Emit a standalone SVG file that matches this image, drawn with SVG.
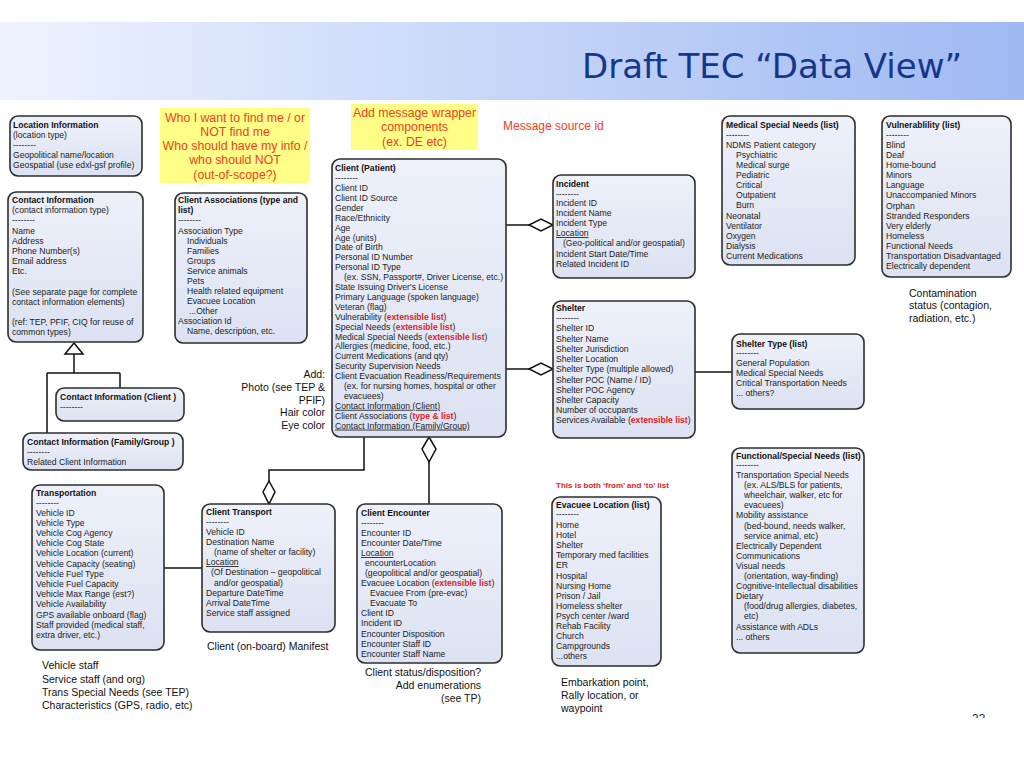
<svg xmlns="http://www.w3.org/2000/svg" width="1024" height="768" viewBox="0 0 1024 768">
<defs>
<linearGradient id="hdr" x1="0" y1="0" x2="1" y2="0">
<stop offset="0" stop-color="#eef3fe"/><stop offset="1" stop-color="#9fb9f3"/>
</linearGradient>
<linearGradient id="bx" x1="0" y1="0" x2="0" y2="1">
<stop offset="0" stop-color="#eef1fa"/><stop offset="1" stop-color="#dce2f2"/>
</linearGradient>
<clipPath id="pg"><rect x="960" y="700" width="60" height="18"/></clipPath>
<style>
.box{fill:url(#bx);stroke:#2e2e2e;stroke-width:1.6}
.t{font-family:"Liberation Sans",Arial,sans-serif;font-size:8.6px;fill:#222}
.b{font-weight:bold;fill:#111}
.r{fill:#e0202a;font-weight:bold}
.u{text-decoration:underline}
.n{font-family:"Liberation Sans",Arial,sans-serif;font-size:10.5px;fill:#111}
.y{font-family:"Liberation Sans",Arial,sans-serif;font-size:12.3px;fill:#f04020;text-anchor:middle}
.ybg{fill:#ffff88}
.c{stroke:#111;stroke-width:1.5;fill:none}
.d{fill:#fff;stroke:#111;stroke-width:1.5}
</style>
</defs>
<rect width="1024" height="768" fill="#fff"/>
<rect x="0" y="22" width="1024" height="78" fill="url(#hdr)"/>
<text x="582" y="78" font-family="DejaVu Sans,Verdana,sans-serif" font-size="34" fill="#15378a">Draft TEC “Data View”</text>

<g id="connectors">
<path class="c" d="M506,225 H529"/>
<polygon class="d" points="529,225 541,219 553,225 541,231"/>
<path class="c" d="M506,369 H529"/>
<polygon class="d" points="529,369 541,363 553,369 541,375"/>
<path class="c" d="M695,372 H732"/>
<path class="c" d="M364,437 V470 H269 V481"/>
<polygon class="d" points="269,481 275,492 269,504 263,492"/>
<polygon class="d" points="429,437 436,449 429,462 422,449"/>
<path class="c" d="M429,462 V504"/>
<path class="c" d="M164,568 H202"/>
<polygon class="d" points="74,343 65,354 83,354"/>
<path class="c" d="M74,354 V373 M47,373 H120 M47,373 V433 M120,373 V388"/>
</g>

<g id="location-information">
<rect class="box" x="10" y="116" width="132" height="60" rx="8"/>
<text class="t"><tspan class="b" x="13" y="128">Location Information</tspan><tspan x="13" y="138">(location type)</tspan><tspan x="13" y="148">--------</tspan><tspan x="13" y="158">Geopolitical name/location</tspan><tspan x="13" y="168">Geospatial (use edxl-gsf profile)</tspan></text>
</g>

<g id="contact-information">
<rect class="box" x="8" y="192" width="135" height="150" rx="8"/>
<text class="t"><tspan class="b" x="12" y="203">Contact Information</tspan><tspan x="12" y="213">(contact information type)</tspan><tspan x="12" y="223">--------</tspan><tspan x="12" y="234">Name</tspan><tspan x="12" y="244">Address</tspan><tspan x="12" y="254">Phone Number(s)</tspan><tspan x="12" y="264">Email address</tspan><tspan x="12" y="274">Etc.</tspan><tspan x="12" y="295">(See separate page for complete</tspan><tspan x="12" y="305">contact  information elements)</tspan><tspan x="12" y="325">(ref: TEP, PFIF, CIQ for reuse of</tspan><tspan x="12" y="335">common types)</tspan></text>
</g>

<g id="note-find-me">
<rect class="ybg" x="160" y="108" width="150" height="75"/>
<text class="y"><tspan x="235" y="121.5">Who I want to find me / or</tspan><tspan x="235" y="135.5">NOT find me</tspan><tspan x="235" y="149.5">Who should have my info /</tspan><tspan x="235" y="163.5">who should NOT</tspan><tspan x="235" y="178.5">(out-of-scope?)</tspan></text>
</g>

<g id="client-associations">
<rect class="box" x="175" y="193" width="132" height="150" rx="8"/>
<text class="t"><tspan class="b" x="178" y="203">Client Associations (type and</tspan><tspan class="b" x="178" y="213">list)</tspan><tspan x="178" y="223">--------</tspan><tspan x="178" y="234">Association Type</tspan><tspan x="187" y="244">Individuals</tspan><tspan x="187" y="254">Families</tspan><tspan x="187" y="264">Groups</tspan><tspan x="187" y="274">Service animals</tspan><tspan x="187" y="284">Pets</tspan><tspan x="187" y="294">Health related equipment</tspan><tspan x="187" y="304">Evacuee Location</tspan><tspan x="189" y="314">...Other</tspan><tspan x="178" y="324">Association Id</tspan><tspan x="187" y="334">Name, description, etc.</tspan></text>
</g>

<g id="note-wrapper">
<rect class="ybg" x="351" y="104" width="127" height="46"/>
<text class="y"><tspan x="414.5" y="116.5">Add message wrapper</tspan><tspan x="414.5" y="131">components</tspan><tspan x="414.5" y="146">(ex. DE etc)</tspan></text>
</g>
<text id="note-source" x="503" y="130" font-family="Liberation Sans,Arial,sans-serif" font-size="12" fill="#f04020">Message source id</text>

<g id="client-patient">
<rect class="box" x="332" y="159" width="174" height="278" rx="8"/>
<text class="t"><tspan class="b" x="335" y="171">Client (Patient)</tspan><tspan x="335" y="181">--------</tspan><tspan x="335" y="191">Client ID</tspan><tspan x="335" y="200.9">Client ID Source</tspan><tspan x="335" y="210.8">Gender</tspan><tspan x="335" y="220.7">Race/Ethnicity</tspan><tspan x="335" y="230.6">Age</tspan><tspan x="335" y="240.5">Age (units)</tspan><tspan x="335" y="250.4">Date of Birth</tspan><tspan x="335" y="260.3">Personal ID Number</tspan><tspan x="335" y="270.2">Personal ID Type</tspan><tspan x="344" y="280.1">(ex. SSN, Passport#, Driver License, etc.)</tspan><tspan x="335" y="290">State Issuing Driver's License</tspan><tspan x="335" y="299.9">Primary Language (spoken language)</tspan><tspan x="335" y="309.8">Veteran (flag)</tspan><tspan x="335" y="319.7">Vulnerability (<tspan class="r">extensible list</tspan>)</tspan><tspan x="335" y="329.6">Special Needs (<tspan class="r">extensible list</tspan>)</tspan><tspan x="335" y="339.5">Medical Special Needs (<tspan class="r">extensible list</tspan>)</tspan><tspan x="335" y="349.4">Allergies (medicine, food, etc.)</tspan><tspan x="335" y="359.3">Current Medications (and qty)</tspan><tspan x="335" y="369.2">Security Supervision Needs</tspan><tspan x="335" y="379.1">Client Evacuation Readiness/Requirements</tspan><tspan x="344" y="389">(ex. for nursing homes, hospital or other</tspan><tspan x="344" y="398.9">evacuees)</tspan><tspan class="u" x="335" y="408.8">Contact Information (Client)</tspan><tspan x="335" y="418.7">Client Associations (<tspan class="r">type &amp; list</tspan>)</tspan><tspan class="u" x="335" y="428.6">Contact Information (Family/Group)</tspan></text>
</g>

<g id="add-note">
<text class="n" text-anchor="end"><tspan x="325" y="378">Add:</tspan><tspan x="325" y="391">Photo (see TEP &amp;</tspan><tspan x="325" y="404">PFIF)</tspan><tspan x="325" y="416">Hair color</tspan><tspan x="325" y="429">Eye color</tspan></text>
</g>

<g id="incident">
<rect class="box" x="553" y="175" width="142" height="103" rx="8"/>
<text class="t"><tspan class="b" x="556" y="187">Incident</tspan><tspan x="556" y="197">--------</tspan><tspan x="556" y="206">Incident ID</tspan><tspan x="556" y="216">Incident Name</tspan><tspan x="556" y="226">Incident Type</tspan><tspan class="u" x="556" y="236">Location</tspan><tspan x="563" y="246">(Geo-political and/or geospatial)</tspan><tspan x="556" y="257">Incident Start Date/Time</tspan><tspan x="556" y="267">Related Incident ID</tspan></text>
</g>

<g id="shelter">
<rect class="box" x="553" y="301" width="142" height="137" rx="8"/>
<text class="t"><tspan class="b" x="556" y="311">Shelter</tspan><tspan x="556" y="321">--------</tspan><tspan x="556" y="331">Shelter ID</tspan><tspan x="556" y="342">Shelter Name</tspan><tspan x="556" y="352">Shelter Jurisdiction</tspan><tspan x="556" y="362">Shelter Location</tspan><tspan x="556" y="372">Shelter Type (multiple allowed)</tspan><tspan x="556" y="383">Shelter POC (Name / ID)</tspan><tspan x="556" y="393">Shelter POC Agency</tspan><tspan x="556" y="403">Shelter Capacity</tspan><tspan x="556" y="413">Number of occupants</tspan><tspan x="556" y="423">Services Available (<tspan class="r">extensible list</tspan>)</tspan></text>
</g>

<g id="medical-special-needs">
<rect class="box" x="722" y="116" width="133" height="149" rx="8"/>
<text class="t"><tspan class="b" x="726" y="128">Medical Special Needs (list)</tspan><tspan x="726" y="138">--------</tspan><tspan x="726" y="148">NDMS Patient category</tspan><tspan x="736" y="158">Psychiatric</tspan><tspan x="736" y="168">Medical surge</tspan><tspan x="736" y="178">Pediatric</tspan><tspan x="736" y="188">Critical</tspan><tspan x="736" y="198">Outpatient</tspan><tspan x="736" y="208">Burn</tspan><tspan x="726" y="219">Neonatal</tspan><tspan x="726" y="229">Ventilator</tspan><tspan x="726" y="239">Oxygen</tspan><tspan x="726" y="249">Dialysis</tspan><tspan x="726" y="259">Current Medications</tspan></text>
</g>

<g id="vulnerability">
<rect class="box" x="882" y="116" width="129" height="161" rx="8"/>
<text class="t"><tspan class="b" x="886" y="128">Vulnerablility (list)</tspan><tspan x="886" y="138">--------</tspan><tspan x="886" y="148">Blind</tspan><tspan x="886" y="158">Deaf</tspan><tspan x="886" y="168">Home-bound</tspan><tspan x="886" y="178">Minors</tspan><tspan x="886" y="188">Language</tspan><tspan x="886" y="198">Unaccompanied Minors</tspan><tspan x="886" y="209">Orphan</tspan><tspan x="886" y="219">Stranded Responders</tspan><tspan x="886" y="229">Very elderly</tspan><tspan x="886" y="239">Homeless</tspan><tspan x="886" y="249">Functional Needs</tspan><tspan x="886" y="259">Transportation Disadvantaged</tspan><tspan x="886" y="269">Electrically dependent</tspan></text>
</g>
<text class="n"><tspan x="909" y="297">Contamination</tspan><tspan x="909" y="309">status (contagion,</tspan><tspan x="909" y="322">radiation, etc.)</tspan></text>

<g id="shelter-type">
<rect class="box" x="732" y="334" width="132" height="75" rx="8"/>
<text class="t"><tspan class="b" x="736" y="347">Shelter Type (list)</tspan><tspan x="736" y="356">--------</tspan><tspan x="736" y="366">General Population</tspan><tspan x="736" y="376">Medical Special Needs</tspan><tspan x="736" y="386">Critical Transportation Needs</tspan><tspan x="736" y="396">... others?</tspan></text>
</g>

<g id="functional-special-needs">
<rect class="box" x="732" y="448" width="132" height="205" rx="8"/>
<text class="t"><tspan class="b" x="736" y="459">Functional/Special Needs (list)</tspan><tspan x="736" y="468">--------</tspan><tspan x="736" y="478">Transportation Special Needs</tspan><tspan x="744" y="488">(ex. ALS/BLS for patients,</tspan><tspan x="744" y="498">wheelchair, walker, etc for</tspan><tspan x="744" y="508">evacuees)</tspan><tspan x="736" y="518">Mobility assistance</tspan><tspan x="744" y="529">(bed-bound, needs walker,</tspan><tspan x="744" y="539">service animal, etc)</tspan><tspan x="736" y="549">Electrically Dependent</tspan><tspan x="736" y="559">Communications</tspan><tspan x="736" y="569">Visual needs</tspan><tspan x="744" y="579">(orientation, way-finding)</tspan><tspan x="736" y="589">Cognitive-Intellectual disabilities</tspan><tspan x="736" y="599">Dietary</tspan><tspan x="744" y="609">(food/drug allergies, diabetes,</tspan><tspan x="744" y="619">etc)</tspan><tspan x="736" y="630">Assistance with ADLs</tspan><tspan x="736" y="640">... others</tspan></text>
</g>

<g id="contact-information-client">
<rect class="box" x="56" y="388" width="128" height="33" rx="8"/>
<text class="t"><tspan class="b" x="60" y="400">Contact Information (Client )</tspan><tspan x="60" y="410">--------</tspan></text>
</g>

<g id="contact-information-family">
<rect class="box" x="23" y="433" width="160" height="37" rx="8"/>
<text class="t"><tspan class="b" x="27" y="445">Contact Information (Family/Group )</tspan><tspan x="27" y="455">--------</tspan><tspan x="27" y="465">Related Client Information</tspan></text>
</g>

<g id="transportation">
<rect class="box" x="32" y="485" width="132" height="165" rx="8"/>
<text class="t"><tspan class="b" x="36" y="496">Transportation</tspan><tspan x="36" y="506">--------</tspan><tspan x="36" y="516">Vehicle ID</tspan><tspan x="36" y="526">Vehicle Type</tspan><tspan x="36" y="536">Vehicle Cog Agency</tspan><tspan x="36" y="546">Vehicle Cog State</tspan><tspan x="36" y="556">Vehicle Location (current)</tspan><tspan x="36" y="567">Vehicle Capacity (seating)</tspan><tspan x="36" y="577">Vehicle Fuel Type</tspan><tspan x="36" y="587">Vehicle Fuel Capacity</tspan><tspan x="36" y="597">Vehicle Max Range (est?)</tspan><tspan x="36" y="607">Vehicle Availability</tspan><tspan x="36" y="618">GPS available onboard (flag)</tspan><tspan x="36" y="628">Staff provided (medical staff,</tspan><tspan x="36" y="638">extra driver, etc.)</tspan></text>
</g>
<text class="n"><tspan x="42" y="669">Vehicle staff</tspan><tspan x="42" y="683">Service staff (and org)</tspan><tspan x="42" y="696">Trans Special Needs (see TEP)</tspan><tspan x="42" y="709">Characteristics (GPS, radio, etc)</tspan></text>

<g id="client-transport">
<rect class="box" x="202" y="504" width="133" height="128" rx="8"/>
<text class="t"><tspan class="b" x="206" y="515">Client Transport</tspan><tspan x="206" y="525">--------</tspan><tspan x="206" y="535">Vehicle ID</tspan><tspan x="206" y="545">Destination Name</tspan><tspan x="214" y="555">(name of shelter or facility)</tspan><tspan class="u" x="206" y="565">Location</tspan><tspan x="211" y="575">(Of Destination – geopolitical</tspan><tspan x="214" y="586">and/or geospatial)</tspan><tspan x="206" y="596">Departure DateTime</tspan><tspan x="206" y="606">Arrival DateTime</tspan><tspan x="206" y="616">Service staff assigned</tspan></text>
</g>
<text class="n" x="207" y="650">Client (on-board) Manifest</text>

<g id="client-encounter">
<rect class="box" x="357" y="504" width="145" height="159" rx="8"/>
<text class="t"><tspan class="b" x="361" y="516">Client Encounter</tspan><tspan x="361" y="526">--------</tspan><tspan x="361" y="536">Encounter ID</tspan><tspan x="361" y="546">Encounter Date/Time</tspan><tspan class="u" x="361" y="556">Location</tspan><tspan x="365" y="566">encounterLocation</tspan><tspan x="365" y="576">(geopolitical and/or geospatial)</tspan><tspan x="361" y="586">Evacuee Location (<tspan class="r">extensible list</tspan>)</tspan><tspan x="370" y="596">Evacuee From (pre-evac)</tspan><tspan x="370" y="606">Evacuate To</tspan><tspan x="361" y="616">Client ID</tspan><tspan x="361" y="626">Incident ID</tspan><tspan x="361" y="637">Encounter Disposition</tspan><tspan x="361" y="647">Encounter Staff ID</tspan><tspan x="361" y="657">Encounter Staff Name</tspan></text>
</g>
<text class="n"><tspan x="365" y="676">Client status/disposition?</tspan><tspan x="481" y="689" text-anchor="end">Add enumerations</tspan><tspan x="481" y="702" text-anchor="end">(see TP)</tspan></text>

<text x="556" y="488" font-family="Liberation Sans,Arial,sans-serif" font-size="8" font-weight="bold" fill="#e0202a">This is both ‘from’ and ‘to’ list</text>

<g id="evacuee-location">
<rect class="box" x="552" y="497" width="109" height="169" rx="8"/>
<text class="t"><tspan class="b" x="556" y="508">Evacuee Location (list)</tspan><tspan x="556" y="517">--------</tspan><tspan x="556" y="528">Home</tspan><tspan x="556" y="538">Hotel</tspan><tspan x="556" y="548">Shelter</tspan><tspan x="556" y="558">Temporary med facilities</tspan><tspan x="556" y="568">ER</tspan><tspan x="556" y="579">Hospital</tspan><tspan x="556" y="589">Nursing Home</tspan><tspan x="556" y="599">Prison / Jail</tspan><tspan x="556" y="609">Homeless shelter</tspan><tspan x="556" y="619">Psych center /ward</tspan><tspan x="556" y="629">Rehab Facility</tspan><tspan x="556" y="639">Church</tspan><tspan x="556" y="649">Campgrounds</tspan><tspan x="556" y="659">...others</tspan></text>
</g>
<text class="n"><tspan x="561" y="686">Embarkation point,</tspan><tspan x="561" y="699">Rally location, or</tspan><tspan x="561" y="712">waypoint</tspan></text>

<text x="972" y="723" clip-path="url(#pg)" font-family="Liberation Sans,Arial,sans-serif" font-size="12" fill="#333">33</text>
</svg>
